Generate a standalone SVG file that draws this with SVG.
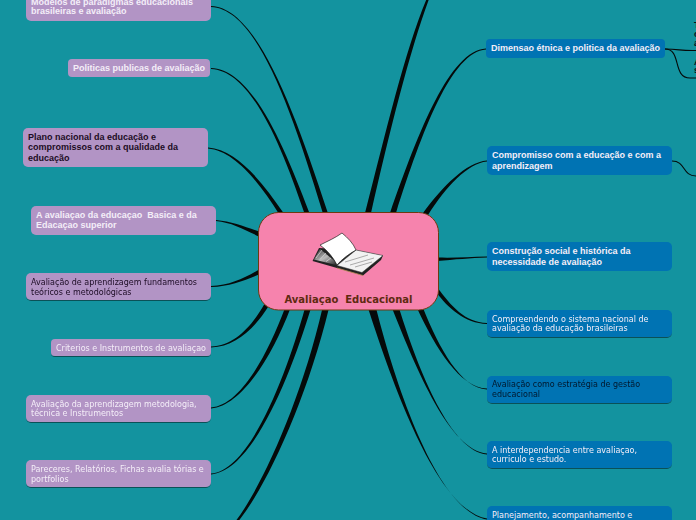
<svg xmlns="http://www.w3.org/2000/svg" width="696" height="520" viewBox="0 0 696 520">
<style>
.p{fill:#b294c5}.b{fill:#0073b3}
text{white-space:pre}
.t{font-family:"Liberation Sans",Arial,sans-serif;font-weight:700;font-size:9px}
.r{font-family:"DejaVu Sans",Verdana,sans-serif;font-size:8px}
.w{fill:#f4eef8}.k{fill:#1c0c24}.kb{fill:#04182c}
.c{fill:#050a0a}.l{fill:none;stroke:#050a0a;stroke-width:1.1}
</style>
<defs>
<filter id="s" x="-5%" y="-10%" width="110%" height="125%"><feDropShadow dx="0" dy="1" stdDeviation=".6" flood-color="#000" flood-opacity=".45"/></filter>
<linearGradient id="g" x1="0" y1="0" x2="1" y2="1"><stop offset="0" stop-color="#222"/><stop offset=".5" stop-color="#bbb"/><stop offset="1" stop-color="#222"/></linearGradient>
</defs>
<rect width="696" height="520" fill="#13939f"/>
<g id="connectors">
<path class="c" d="M211,6C255,7.500 291,100 327.500,212L322.500,212C289,101 255,8.500 211,7Z"/>
<path class="c" d="M211,68C251,69.500 282,140 309,212L304,212C280,141 250,70.500 211,69Z"/>
<path class="c" d="M208,147.500C236,149.500 261,180 283.500,213L279,214C259,182 234,150.500 208,148.500Z"/>
<path class="c" d="M216,220C232,221.500 246,227 260,232L260,237C245,230 232,222.500 216,221Z"/>
<path class="c" d="M211,286C230,285.500 245,278 260,269L260,274C246,280 230,286.500 211,287Z"/>
<path class="c" d="M211,346.500C235,345.500 252,326 265,303L269,305.500C255,328 236,346.500 211,347.500Z"/>
<path class="c" d="M211,407.500C240,405.500 267,356 285,308L290.500,308C272,357 241,406.500 211,408.500Z"/>
<path class="c" d="M211,473.500C250,470.500 286,376 305,308L311,308C290,377 252,471.500 211,474.500Z"/>
<path class="c" d="M236.500,520C262,486 301,401 322.500,308L329,308C306,402 266,487 238.500,521Z"/>
<path class="c" d="M427,-2C405,50 386.500,130 365,213L371,213C390,130 410,50 429,-1Z"/>
<path class="c" d="M486,48.500C450,50.500 419,130 390,213L396,213C422,131 452,51.500 486,49.500Z"/>
<path class="c" d="M487,160.500C466,162.500 443,186 423,213L428,215C446,187 467,163.500 487,161.500Z"/>
<path class="c" d="M487,256.500C470,257 455,258 437,257.500L437,261C455,259.500 470,258 487,257.500Z"/>
<path class="c" d="M487,323C465,322.500 451,306 437,287L437,293C447,307 465,323.500 487,324Z"/>
<path class="c" d="M487,388.500C460,387.500 436,349 417,308L423,308C439,348 461,388.500 487,389.500Z"/>
<path class="c" d="M487,453.500C450,450.500 417,371 392,308L399,308C419,372 451,451.500 487,454.500Z"/>
<path class="c" d="M487,518.500C440,511 398,401 368,308L376,308C400,402 441,512 487,519.500Z"/>
<path class="l" d="M665,49C680,49 680,51 696,50.500"/>
<path class="l" d="M665,49C682,49 672,78 690,78L696,78"/>
<path class="l" d="M672,161C686,161 682,176 696,176"/>
</g>
<g id="n1"><rect class="p" x="26" y="-12" width="185" height="33" rx="5"/><text class="t w" x="31" y="5">Modelos de paradigmas educacionais</text><text class="t w" x="31" y="14">brasileiras e avaliação</text></g>
<g id="n2"><rect class="p" x="68" y="59" width="142" height="18" rx="4"/><text class="t w" x="73" y="71">Politicas publicas de avaliação</text></g>
<g id="n3"><rect class="p" x="23" y="128" width="185" height="39" rx="5"/><text class="t k" x="28" y="140">Plano nacional da educação e</text><text class="t k" x="28" y="150">compromissos com a qualidade da</text><text class="t k" x="28" y="161">educação</text></g>
<g id="n4"><rect class="p" x="31" y="206" width="185" height="29" rx="5"/><text class="t w" x="36" y="218">A avaliaçao da educaçao  Basica e da</text><text class="t w" x="36" y="228">Edacaçao superior</text></g>
<g id="n5" filter="url(#s)"><rect class="p" x="26" y="273" width="185" height="27" rx="5"/><text class="r k" x="31" y="285">Avaliação de aprendizagem fundamentos</text><text class="r k" x="31" y="295">teóricos e metodológicas</text></g>
<g id="n6" filter="url(#s)"><rect class="p" x="51" y="339" width="160" height="17" rx="4"/><text class="r w" x="56" y="351">Criterios e Instrumentos de avaliaçao</text></g>
<g id="n7" filter="url(#s)"><rect class="p" x="26" y="395" width="185" height="27" rx="5"/><text class="r w" x="31" y="407">Avaliação da aprendizagem metodologia,</text><text class="r w" x="31" y="416">técnica e Instrumentos</text></g>
<g id="n8" filter="url(#s)"><rect class="p" x="26" y="460" width="185" height="27" rx="5"/><text class="r w" x="31" y="472">Pareceres, Relatórios, Fichas avalia tórias e</text><text class="r w" x="31" y="482">portfolios</text></g>
<g id="n9"><rect class="b" x="486" y="39" width="179" height="19" rx="4"/><text class="t w" x="491" y="51">Dimensao étnica e politica da avaliação</text></g>
<g id="n10"><rect class="b" x="487" y="146" width="185" height="29" rx="5"/><text class="t w" x="492" y="158">Compromisso com a educação e com a</text><text class="t w" x="492" y="169">aprendizagem</text></g>
<g id="n11"><rect class="b" x="487" y="242" width="185" height="29" rx="5"/><text class="t w" x="492" y="254">Construção social e histórica da</text><text class="t w" x="492" y="265">necessidade de avaliação</text></g>
<g id="n12" filter="url(#s)"><rect class="b" x="487" y="310" width="185" height="27" rx="5"/><text class="r w" x="492" y="322">Compreendendo o sistema nacional de</text><text class="r w" x="492" y="331">avaliação da educação brasileiras</text></g>
<g id="n13" filter="url(#s)"><rect class="b" x="487" y="376" width="185" height="27" rx="5"/><text class="r kb" x="492" y="387">Avaliação como estratégia de gestão</text><text class="r kb" x="492" y="397">educacional</text></g>
<g id="n14" filter="url(#s)"><rect class="b" x="487" y="441" width="185" height="27" rx="5"/><text class="r w" x="492" y="453">A interdependencia entre avaliaçao,</text><text class="r w" x="492" y="462">curriculo e estudo.</text></g>
<g id="n15"><rect class="b" x="487" y="506" width="185" height="27" rx="5"/><text class="r w" x="492" y="518">Planejamento, acompanhamento e</text></g>
<g id="n16"><text class="t" fill="#05101a" x="694" y="28">T</text><text class="t" fill="#05101a" x="694" y="37">c</text><text class="t" fill="#05101a" x="694" y="46">a</text><text class="t" fill="#05101a" x="694" y="65">A</text><text class="t" fill="#05101a" x="694" y="73">s</text></g>
<g id="hub">
<rect x="258.500" y="212.500" width="180" height="97.500" rx="20" fill="#f683ad" stroke="#6e3a10" stroke-width="1"/>
<path d="M312.500,261L319,248 356,250 383,255.500 381,260 363,275.500 337,268Z" fill="#222"/>
<path d="M314,259.500L320,249 337,263 336,265Z" fill="url(#g)"/>
<path d="M316,258L322,250M320,259.500L326,253M326,261.500L331,258" stroke="#eee" stroke-width=".6"/>
<path d="M337,265.500L356,250 383,255.500 362,272.500Z" fill="#f2f2f2" stroke="#333" stroke-width=".5"/>
<path d="M345,262L368,255M350,265L374,258M355,267L372,262" stroke="#aaa" stroke-width="1" fill="none"/>
<path d="M320,245C328,241 335,238 342,233C348,238 353,243 356,250C349,254 342,259 337,265C333,257 327,250 320,245Z" fill="#fff" stroke="#222" stroke-width=".7"/>
<path d="M337,268L363,275.500" stroke="#b08a50" stroke-width=".8"/>
<text x="348.500" y="303" text-anchor="middle" font-family="DejaVu Sans,sans-serif" font-weight="700" font-size="10px" fill="#5e2a10">Avaliaçao  Educacional</text>
</g>
</svg>
